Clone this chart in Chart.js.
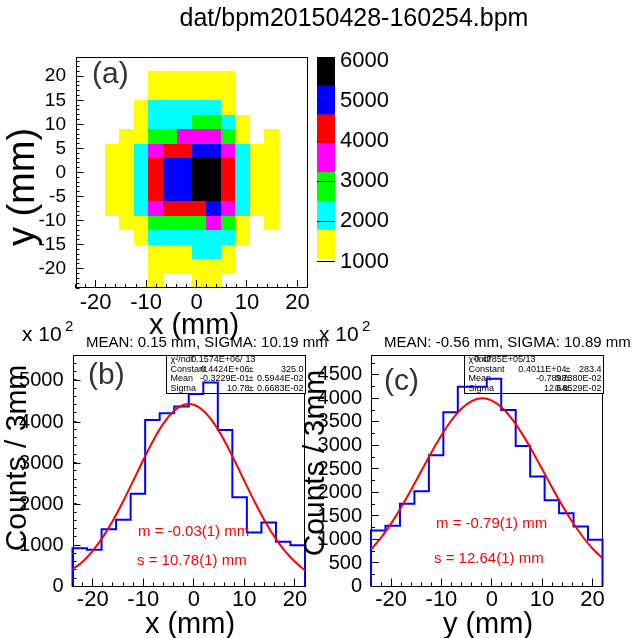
<!DOCTYPE html>
<html>
<head>
<meta charset="utf-8">
<script src="https://cdn.jsdelivr.net/npm/chart.js@4.4.1/dist/chart.umd.min.js"></script>
<style>
  body { margin: 0; background: #fff; }
  #wrap { position: relative; width: 632px; height: 638px; overflow: hidden; background: #fff; }
  #wrap canvas { position: absolute; left: 0; top: 0; }
</style>
</head>
<body>
<div id="wrap">
  <canvas id="mapChart" width="632" height="638"></canvas>
  <canvas id="paletteChart" width="632" height="638"></canvas>
  <canvas id="projXChart" width="632" height="638"></canvas>
  <canvas id="projYChart" width="632" height="638"></canvas>
</div>
<script>
// ---------------- data ----------------
var xRange = [-24, 22];      // mm, x of the map and both projections
var yRange = [-24, 24];      // mm, y of the map
var nBins = 16;

// tick labels
var xTicks = [-20, -10, 0, 10, 20];
var mapYTicks = [-20, -15, -10, -5, 0, 5, 10, 15, 20];
var paletteTicks = [1000, 2000, 3000, 4000, 5000, 6000];
var countsXTicks = [0, 1000, 2000, 3000, 4000, 5000];
var countsYTicks = [0, 500, 1000, 1500, 2000, 2500, 3000, 3500, 4000, 4500];

// beam map, rows from top (high y) to bottom, columns from low x to high x
var mapValues = [
  [0, 0, 0, 0, 0, 0, 0, 0, 0, 0, 0, 0, 0, 0, 0, 0],
  [0, 0, 0, 0, 0, 1400, 1400, 1400, 1400, 1400, 1400, 0, 0, 0, 0, 0],
  [0, 0, 0, 0, 0, 1400, 1400, 1400, 1400, 1400, 1400, 0, 0, 0, 0, 0],
  [0, 0, 0, 0, 1400, 2100, 2100, 2100, 2100, 2100, 1400, 0, 0, 0, 0, 0],
  [0, 0, 0, 0, 1400, 2100, 2100, 2100, 2850, 2850, 2100, 1400, 0, 0, 0, 0],
  [0, 0, 0, 1400, 1400, 2850, 2850, 3600, 3600, 3600, 2850, 1400, 0, 1400, 0, 0],
  [0, 0, 1400, 1400, 2100, 3600, 4300, 4300, 5000, 5000, 3600, 2100, 1400, 1400, 0, 0],
  [0, 0, 1400, 1400, 2100, 4300, 5000, 5000, 5750, 5750, 4300, 2100, 1400, 1400, 0, 0],
  [0, 0, 1400, 1400, 2100, 4300, 5000, 5000, 5750, 5750, 4300, 2100, 1400, 1400, 0, 0],
  [0, 0, 1400, 1400, 2100, 4300, 5000, 5000, 5750, 5750, 4300, 2100, 1400, 1400, 0, 0],
  [0, 0, 1400, 1400, 2100, 3600, 4300, 4300, 4300, 5000, 3600, 2100, 1400, 1400, 0, 0],
  [0, 0, 0, 1400, 1400, 2850, 2850, 2850, 2850, 3600, 2850, 1400, 0, 1400, 0, 0],
  [0, 0, 0, 0, 1400, 2100, 2100, 2100, 2100, 2100, 2100, 1400, 0, 0, 0, 0],
  [0, 0, 0, 0, 0, 1400, 1400, 1400, 2100, 2100, 1400, 0, 0, 0, 0, 0],
  [0, 0, 0, 0, 0, 1400, 1400, 1400, 1400, 1400, 1400, 0, 0, 0, 0, 0],
  [0, 0, 0, 0, 0, 1400, 0, 0, 1400, 1400, 0, 0, 0, 0, 0, 0]
];

// colour scale (z)
var zRange = [340, 6100];
var paletteColors = ['#ffffff', '#ffff00', '#00ffff', '#00ff00', '#ff00ff', '#ff0000', '#0000ff', '#000000'];

// projections, counts / 3mm in units of 10^2
var countsX = [932, 891, 1394, 1621, 2253, 4052, 4214, 4376, 4684, 4959, 3809, 2172, 1313, 1556, 1086, 1005];
var countsY = [1191, 1290, 1758, 2027, 2792, 3707, 4252, 4252, 4422, 3756, 2991, 2339, 1836, 1559, 1276, 992];

// gaussian fits
var fitPositions = [-24, -22, -20, -18, -16, -14, -12, -10, -8, -6, -4, -2, 0, 2, 4, 6, 8, 10, 12, 14, 16, 18, 20, 22];
var fitXValues = [420, 604, 867, 1201, 1605, 2067, 2568, 3078, 3557, 3966, 4264, 4421, 4421, 4264, 3966, 3557, 3078, 2568, 2067, 1605, 1201, 867, 604, 392];
var fitYValues = [786, 1041, 1343, 1688, 2064, 2458, 2850, 3218, 3537, 3786, 3946, 4004, 3956, 3806, 3566, 3252, 2888, 2498, 2103, 1724, 1376, 1069, 809, 597];

var yMaxX = 5630;
var yMaxY = 4925;

var statsX = [
  ['\u03c7\u00b2/ndf', '0.1574E+06/', '13'],
  ['Constant', '0.4424E+06', '325.0'],
  ['Mean', '-0.3229E-01', '0.5944E-02'],
  ['Sigma', '10.78', '0.6683E-02']
];
var statsY = [
  ['\u03c7\u00b2/ndf', '0.4785E+05/', '13'],
  ['Constant', '0.4011E+04', '283.4'],
  ['Mean', '-0.7898', '0.7380E-02'],
  ['Sigma', '12.64', '0.8529E-02']
];

// ---------------- helpers ----------------
var FONT = "'Liberation Sans', Arial, Helvetica, sans-serif";
var AXW = 70;   // room kept for y tick labels
var AXH = 42;   // room kept for x tick labels

function fixW(w) { return function (s) { s.width = w; }; }
function fixH(h) { return function (s) { s.height = h; }; }

function pad(a, left, bottom, right) {
  return { left: a.l - left, top: a.t, right: 632 - a.r - right, bottom: 638 - a.b - bottom };
}

function zColor(v) {
  var k = Math.floor((v - zRange[0]) / (zRange[1] - zRange[0]) * paletteColors.length);
  k = Math.max(0, Math.min(paletteColors.length - 1, k));
  return paletteColors[k];
}

function useTicks(values) {
  return function (s) { s.ticks = values.map(function (v) { return { value: v }; }); };
}

function majorAxis(pos, min, max, values, size, padding) {
  var hor = pos === 'bottom';
  return {
    type: 'linear', position: pos, min: min, max: max, weight: 1,
    afterFit: hor ? fixH(AXH) : fixW(AXW),
    afterBuildTicks: useTicks(values),
    border: { display: false },
    grid: { drawOnChartArea: false, drawTicks: true, tickLength: -8, color: '#000', lineWidth: 1, z: 1 },
    ticks: {
      autoSkip: false, maxRotation: 0, minRotation: 0,
      padding: padding, color: '#000', font: { family: FONT, size: size },
      callback: function (v) { return String(v); }
    }
  };
}

function minorAxis(pos, min, max, step) {
  return {
    type: 'linear', position: pos, min: min, max: max, display: true, weight: 0,
    afterFit: pos === 'bottom' ? fixH(0) : fixW(0),
    border: { display: false },
    grid: { drawOnChartArea: false, drawTicks: true, tickLength: -4, color: '#000', lineWidth: 1, z: 1 },
    ticks: { stepSize: step, display: false, autoSkip: false, includeBounds: false }
  };
}

var framePlugin = {
  id: 'frame',
  beforeDatasetsDraw: function (chart) {
    var a = chart.chartArea, ctx = chart.ctx;
    ctx.save();
    ctx.strokeStyle = '#000';
    ctx.lineWidth = 1;
    var l = Math.round(a.left) + 0.5, t = Math.round(a.top) + 0.5;
    var r = Math.round(a.right) - 0.5, b = Math.round(a.bottom) - 0.5;
    ctx.strokeRect(l, t, r - l, b - t);
    ctx.restore();
  }
};

function textPlugin(id, items) {
  return {
    id: id,
    afterDraw: function (chart) {
      var ctx = chart.ctx;
      items.forEach(function (it) {
        ctx.save();
        ctx.font = it.size + 'px ' + FONT;
        ctx.fillStyle = it.color || '#000';
        ctx.textAlign = it.align || 'left';
        ctx.textBaseline = 'middle';
        ctx.translate(it.x, it.y);
        if (it.rot) ctx.rotate(-Math.PI / 2);
        ctx.fillText(it.text, 0, 0);
        ctx.restore();
      });
    }
  };
}

function statsPlugin(id, rows, cols) {
  return {
    id: id,
    beforeDatasetsDraw: function (chart) {
      var a = chart.chartArea, ctx = chart.ctx;
      var left = Math.round(a.right - cols.w) + 0.5, top = Math.round(a.top) + 0.5;
      ctx.save();
      ctx.fillStyle = '#fff';
      ctx.fillRect(left, top, cols.w, cols.h);
      ctx.strokeStyle = '#000';
      ctx.lineWidth = 1;
      ctx.strokeRect(left, top, cols.w, cols.h);
      ctx.font = '9px ' + FONT;
      ctx.fillStyle = '#000';
      ctx.textBaseline = 'middle';
      rows.forEach(function (r, i) {
        var y = top + 4.5 + i * 9.4;
        ctx.textAlign = 'left';
        ctx.fillText(r[0], left + 4, y);
        ctx.textAlign = 'right';
        if (i === 0) {
          ctx.fillText(r[1], left + cols.chi, y);
          ctx.fillText(r[2], left + cols.ndf, y);
        } else {
          ctx.fillText(r[1], left + cols.val, y);
          ctx.textAlign = 'left';
          ctx.fillText('\u00b1', left + cols.val - 1, y);
          ctx.textAlign = 'right';
          ctx.fillText(r[2], left + cols.w - 2, y);
        }
      });
      ctx.restore();
    }
  };
}

var mapPlugin = {
  id: 'mapCells',
  beforeDatasetsDraw: function (chart) {
    var ctx = chart.ctx, xs = chart.scales.x, ys = chart.scales.y;
    var dx = (xRange[1] - xRange[0]) / nBins, dy = (yRange[1] - yRange[0]) / nBins;
    ctx.save();
    for (var r = 0; r < nBins; r++) {
      for (var c = 0; c < nBins; c++) {
        var v = mapValues[r][c];
        if (!v) continue;
        var x0 = Math.round(xs.getPixelForValue(xRange[0] + c * dx));
        var x1 = Math.round(xs.getPixelForValue(xRange[0] + (c + 1) * dx));
        var y0 = Math.round(ys.getPixelForValue(yRange[1] - r * dy));
        var y1 = Math.round(ys.getPixelForValue(yRange[1] - (r + 1) * dy));
        ctx.fillStyle = zColor(v);
        ctx.fillRect(x0, y0, x1 - x0, y1 - y0);
      }
    }
    ctx.restore();
  }
};

function histPoints(counts) {
  var w = (xRange[1] - xRange[0]) / counts.length;
  var pts = [{ x: xRange[0], y: 0 }];
  counts.forEach(function (v, i) { pts.push({ x: xRange[0] + i * w, y: v }); });
  pts.push({ x: xRange[1], y: counts[counts.length - 1] });
  pts.push({ x: xRange[1], y: 0 });
  return pts;
}

function fitPoints(vals) {
  return fitPositions.map(function (p, i) { return { x: p, y: vals[i] }; });
}

var common = {
  responsive: false,
  animation: false,
  events: [],
  plugins: { legend: { display: false }, tooltip: { enabled: false } }
};

function opts(padding, scales) {
  return Object.assign({}, common, { layout: { padding: padding }, scales: scales });
}

// ---------------- (a) beam map ----------------
var areaA = { l: 75.5, t: 57, r: 307.5, b: 288 };
new Chart(document.getElementById('mapChart'), {
  type: 'scatter',
  data: { datasets: [] },
  options: opts(pad(areaA, AXW, AXH, 0), {
    x: majorAxis('bottom', xRange[0], xRange[1], xTicks, 22, 10),
    xMinor: minorAxis('bottom', xRange[0], xRange[1], 2),
    y: majorAxis('left', yRange[0], yRange[1], mapYTicks, 19, 17.5),
    yMinor: minorAxis('left', yRange[0], yRange[1], 1)
  }),
  plugins: [mapPlugin, framePlugin, textPlugin('textsA', [
    { text: 'dat/bpm20150428-160254.bpm', x: 354, y: 19, size: 25, align: 'center' },
    { text: '(a)', x: 92, y: 75, size: 30, color: '#333' },
    { text: 'x (mm)', x: 194, y: 326, size: 29, align: 'center' },
    { text: 'y (mm)', x: 24, y: 187, size: 38, align: 'center', rot: true }
  ])]
});

// ---------------- palette ----------------
var areaP = { l: 317, t: 57, r: 335, b: 288 };
var zStep = (zRange[1] - zRange[0]) / paletteColors.length;
new Chart(document.getElementById('paletteChart'), {
  type: 'bar',
  data: {
    labels: [''],
    datasets: paletteColors.map(function (c, i) {
      return {
        data: [[zRange[0] + i * zStep, zRange[0] + (i + 1) * zStep]],
        backgroundColor: c, borderWidth: 0,
        barPercentage: 1, categoryPercentage: 1, grouped: false
      };
    })
  },
  options: opts(pad(areaP, 0, 0, AXW), {
    x: { display: false },
    y: {
      type: 'linear', position: 'right', min: zRange[0], max: zRange[1],
      afterFit: fixW(AXW),
      afterBuildTicks: useTicks(paletteTicks),
      border: { display: false },
      grid: { drawOnChartArea: true, drawTicks: false, color: '#000', lineWidth: 1, z: 1 },
      ticks: {
        autoSkip: false, padding: 5, color: '#000',
        font: { family: FONT, size: 22 }, callback: function (v) { return String(v); }
      }
    }
  }),
  plugins: [framePlugin]
});

// ---------------- (b) x projection ----------------
var areaB = { l: 72.5, t: 355, r: 305, b: 586.5 };
new Chart(document.getElementById('projXChart'), {
  type: 'scatter',
  data: {
    datasets: [
      { data: histPoints(countsX), showLine: true, stepped: true, borderColor: '#0000ff', borderWidth: 2, pointRadius: 0, order: 1, clip: 3 },
      { data: fitPoints(fitXValues), showLine: true, tension: 0.3, borderColor: '#ff0000', borderWidth: 2, pointRadius: 0, order: 0 }
    ]
  },
  options: opts(pad(areaB, AXW, AXH, 0), {
    x: majorAxis('bottom', xRange[0], xRange[1], xTicks, 22, 8),
    xMinor: minorAxis('bottom', xRange[0], xRange[1], 2),
    y: majorAxis('left', 0, yMaxX, countsXTicks, 20, 17),
    yMinor: minorAxis('left', 0, yMaxX, 200)
  }),
  plugins: [framePlugin, statsPlugin('statsB', statsX, { w: 139, h: 38, chi: 76, ndf: 89, val: 83 }), textPlugin('textsB', [
    { text: 'x 10', x: 22, y: 335, size: 21 },
    { text: '2', x: 65, y: 327, size: 15 },
    { text: 'MEAN: 0.15 mm, SIGMA: 10.19 mm', x: 86, y: 343, size: 15 },
    { text: '(b)', x: 88, y: 376, size: 30, color: '#333' },
    { text: 'm = -0.03(1) mm', x: 138, y: 532, size: 15, color: '#ff0000' },
    { text: 's = 10.78(1) mm', x: 137, y: 561, size: 15, color: '#ff0000' },
    { text: 'x (mm)', x: 190, y: 625, size: 29, align: 'center' },
    { text: 'Counts / 3mm', x: 18, y: 458, size: 30, align: 'center', rot: true }
  ])]
});

// ---------------- (c) y projection ----------------
var areaC = { l: 371, t: 355, r: 602.5, b: 586.5 };
new Chart(document.getElementById('projYChart'), {
  type: 'scatter',
  data: {
    datasets: [
      { data: histPoints(countsY), showLine: true, stepped: true, borderColor: '#0000ff', borderWidth: 2, pointRadius: 0, order: 1, clip: 3 },
      { data: fitPoints(fitYValues), showLine: true, tension: 0.3, borderColor: '#ff0000', borderWidth: 2, pointRadius: 0, order: 0 }
    ]
  },
  options: opts(pad(areaC, AXW, AXH, 0), {
    x: majorAxis('bottom', xRange[0], xRange[1], xTicks, 22, 8),
    xMinor: minorAxis('bottom', xRange[0], xRange[1], 2),
    y: majorAxis('left', 0, yMaxY, countsYTicks, 20, 17),
    yMinor: minorAxis('left', 0, yMaxY, 250)
  }),
  plugins: [framePlugin, statsPlugin('statsC', statsY, { w: 139, h: 38, chi: 61, ndf: 71, val: 102 }), textPlugin('textsC', [
    { text: 'x 10', x: 319, y: 335, size: 21 },
    { text: '2', x: 362, y: 327, size: 15 },
    { text: 'MEAN: -0.56 mm, SIGMA: 10.89 mm', x: 384, y: 343, size: 15 },
    { text: '(c)', x: 384, y: 382, size: 30, color: '#333' },
    { text: 'm = -0.79(1) mm', x: 436, y: 524, size: 15, color: '#ff0000' },
    { text: 's = 12.64(1) mm', x: 434, y: 559, size: 15, color: '#ff0000' },
    { text: 'y (mm)', x: 488, y: 625, size: 29, align: 'center' },
    { text: 'Counts / 3mm', x: 316, y: 463, size: 30, align: 'center', rot: true }
  ])]
});
</script>
</body>
</html>
